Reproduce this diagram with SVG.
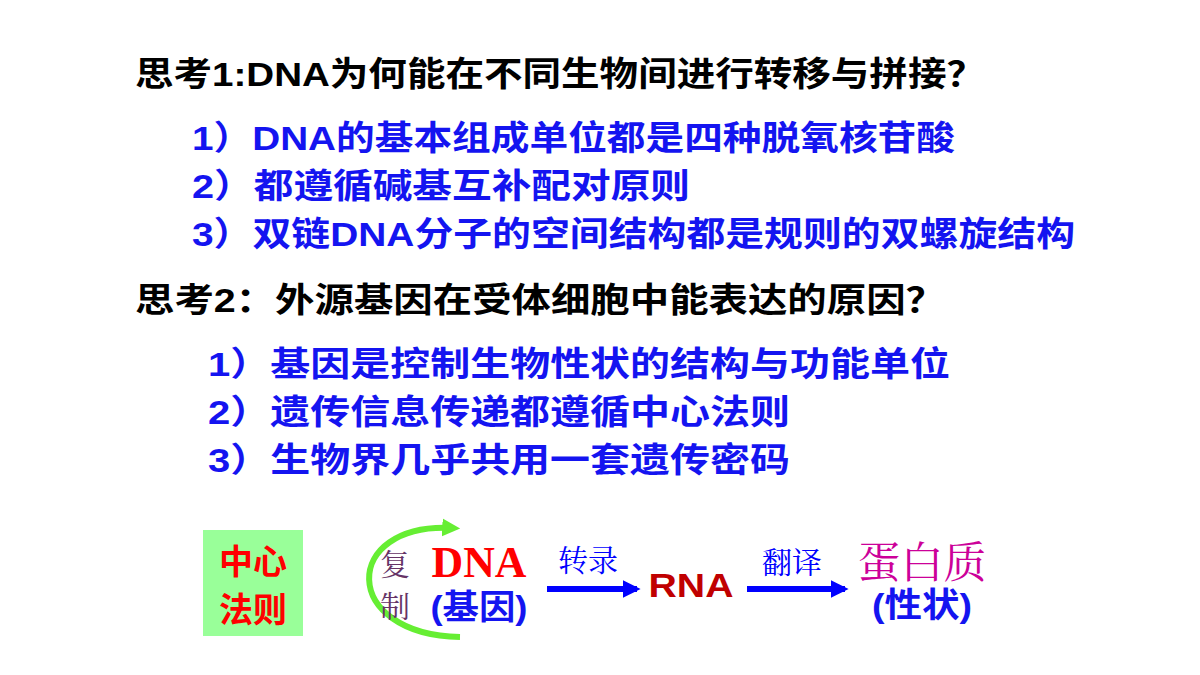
<svg xmlns="http://www.w3.org/2000/svg" width="1200" height="675" viewBox="0 0 1200 675">
<defs>
<style>
.t{font-family:"Liberation Sans","Noto Sans CJK SC",sans-serif;font-weight:bold;font-size:34px}
.k{fill:#000}
.b{fill:#1414f0}
.s{font-family:"Liberation Serif","Noto Serif CJK SC","Noto Sans CJK SC",serif}
</style>
<marker id="ah" viewBox="0 0 10 10" refX="8" refY="5" markerWidth="3" markerHeight="3" orient="auto"><path d="M0,0L10,5L0,10z" fill="#0000ff"/></marker>
<marker id="ag" viewBox="0 0 10 10" refX="6" refY="5" markerWidth="3" markerHeight="3.4" orient="auto"><path d="M0,0L10,5L0,10z" fill="#66ee33"/></marker>
</defs>
<rect width="1200" height="675" fill="#fff"/>
<text class="t k" x="135" y="86" textLength="850" lengthAdjust="spacingAndGlyphs">思考1:DNA为何能在不同生物间进行转移与拼接？</text>
<text class="t b" x="192" y="150" textLength="763" lengthAdjust="spacingAndGlyphs">1）DNA的基本组成单位都是四种脱氧核苷酸</text>
<text class="t b" x="192" y="198" textLength="498" lengthAdjust="spacingAndGlyphs">2）都遵循碱基互补配对原则</text>
<text class="t b" x="192" y="246" textLength="883" lengthAdjust="spacingAndGlyphs">3）双链DNA分子的空间结构都是规则的双螺旋结构</text>
<text class="t k" x="135" y="312" textLength="810" lengthAdjust="spacingAndGlyphs">思考2：外源基因在受体细胞中能表达的原因？</text>
<text class="t b" x="208" y="376" textLength="742" lengthAdjust="spacingAndGlyphs">1）基因是控制生物性状的结构与功能单位</text>
<text class="t b" x="208" y="424" textLength="582" lengthAdjust="spacingAndGlyphs">2）遗传信息传递都遵循中心法则</text>
<text class="t b" x="208" y="472" textLength="582" lengthAdjust="spacingAndGlyphs">3）生物界几乎共用一套遗传密码</text>
<g id="box">
<rect x="203" y="530" width="100" height="106" fill="#99ff99"/>
<text class="t" x="253" y="574" text-anchor="middle" font-size="40" fill="#ff0000">中心</text>
<text class="t" x="253" y="622" text-anchor="middle" font-size="40" fill="#ff0000">法则</text>
</g>
<g id="connectors">
<path d="M460,637 C340,635 340,522 453,528" fill="none" stroke="#66ee33" stroke-width="6" marker-end="url(#ag)"/>
<line x1="547" y1="589" x2="637" y2="589" stroke="#0000ff" stroke-width="6" marker-end="url(#ah)"/>
<line x1="747" y1="589" x2="845" y2="589" stroke="#0000ff" stroke-width="6" marker-end="url(#ah)"/>
</g>
<g id="dna">
<text class="s" x="395" y="575" font-size="30" fill="#663366" text-anchor="middle">复</text>
<text class="s" x="395" y="617" font-size="30" fill="#663366" text-anchor="middle">制</text>
<text class="s" x="479" y="577" font-size="44" font-weight="bold" fill="#ff0000" text-anchor="middle" textLength="95" lengthAdjust="spacingAndGlyphs">DNA</text>
<text class="t b" x="479" y="619" font-size="30" text-anchor="middle" textLength="97" lengthAdjust="spacingAndGlyphs">(基因)</text>
</g>
<text class="s" x="588" y="571" font-size="30" fill="#0000ff" text-anchor="middle">转录</text>
<text class="s" x="792" y="573" font-size="30" fill="#0000ff" text-anchor="middle">翻译</text>
<g id="rna"><text class="t" x="691" y="597" font-size="38" fill="#c00000" text-anchor="middle" textLength="85" lengthAdjust="spacingAndGlyphs">RNA</text></g>
<g id="protein">
<text class="s" x="922" y="578" font-size="43" fill="#cc0099" text-anchor="middle">蛋白质</text>
<text class="t b" x="922" y="617" font-size="30" text-anchor="middle" textLength="100" lengthAdjust="spacingAndGlyphs">(性状)</text>
</g>
</svg>
